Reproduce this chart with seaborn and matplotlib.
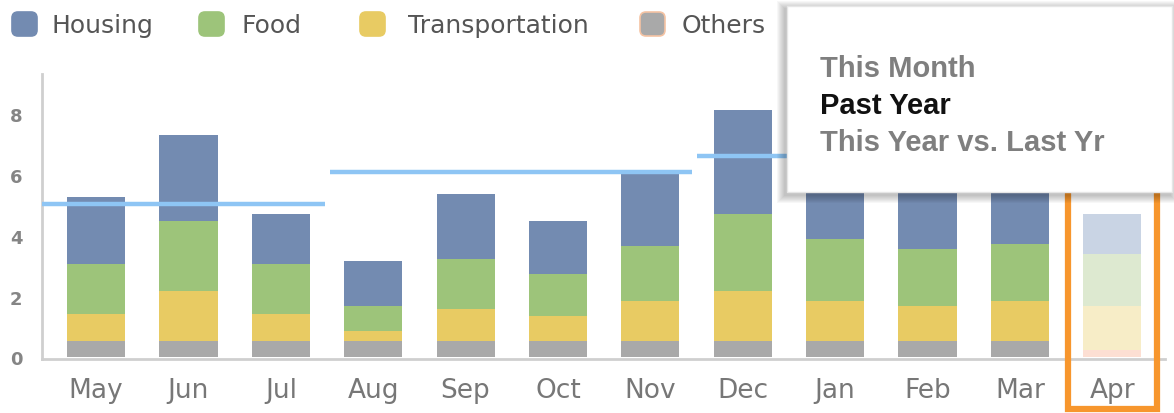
import matplotlib
matplotlib.use("Agg")
import matplotlib.pyplot as plt
import matplotlib.transforms as mtransforms
from matplotlib.patches import FancyBboxPatch, Rectangle
import pandas as pd
import seaborn as sns

# --- data ---
months = ["May", "Jun", "Jul", "Aug", "Sep", "Oct", "Nov", "Dec", "Jan", "Feb", "Mar", "Apr"]
categories = ["Housing", "Food", "Transportation", "Others"]
housing = [2.21, 2.84, 1.63, 1.47, 2.13, 1.73, 2.38, 3.42, 2.31, 2.44, 2.57, 1.31]
food = [1.63, 2.30, 1.63, 0.82, 1.64, 1.39, 1.80, 2.54, 2.04, 1.88, 1.88, 1.72]
transport = [0.89, 1.62, 0.89, 0.31, 1.05, 0.80, 1.30, 1.62, 1.30, 1.13, 1.30, 1.45]
others = [0.55, 0.55, 0.55, 0.55, 0.55, 0.55, 0.55, 0.55, 0.55, 0.55, 0.55, 0.23]
target_values = [5.03, 6.10, 6.60]
target_spans = [(-0.6, 2.48), (2.53, 6.45), (6.5, 10.5)]
popup_items = ["This Month", "Past Year", "This Year vs. Last Yr"]

colors = ["#738bb1", "#9dc47a", "#e8cb63", "#a9a9a9"]
faded = ["#c9d4e4", "#dde9d0", "#f7edc7", "#fddfd3"]

sns.set_theme(style="white")
plt.rcParams["font.family"] = ["DejaVu Sans"]

df = pd.DataFrame({"month": months, "Housing": housing, "Food": food,
                   "Transportation": transport, "Others": others})

W, H = 1174, 414
fig = plt.figure(figsize=(W / 100, H / 100), dpi=100)
ax = fig.add_axes([42 / W, 54 / H, (1165 - 42) / W, (360 - 75) / H])

# stacked bars: draw cumulative totals from top layer down
for i, cat in enumerate(categories):
    cum = df[categories[i:]].sum(axis=1)
    pal = [colors[i]] * (len(months) - 1) + [faded[i]]
    sns.barplot(x=df["month"], y=cum, hue=df["month"], palette=pal,
                legend=False, width=0.63, ax=ax, saturation=1, linewidth=0)

# target lines
for val, (x0, x1) in zip(target_values, target_spans):
    ax.plot([x0, x1], [val, val], color="#8ec5f4", lw=3.2, solid_capstyle="butt", zorder=5)

ax.set_xlim(-0.585, 11.57)
ax.set_ylim(-0.05, 9.3)
ax.set_yticks([0, 2, 4, 6, 8])
ax.set_xlabel("")
ax.set_ylabel("")
for s in ["top", "right"]:
    ax.spines[s].set_visible(False)
for s in ["left", "bottom"]:
    ax.spines[s].set_color("#cfcfcf")
    ax.spines[s].set_linewidth(2)
ax.tick_params(axis="x", length=0, pad=13, labelsize=19, labelcolor="#777777")
ax.tick_params(axis="y", length=0, pad=14, labelsize=13, labelcolor="#858585")
for t in ax.get_yticklabels():
    t.set_fontweight("bold")

# legend drawn by hand (rounded swatches), pixel coordinates
pix = mtransforms.IdentityTransform()
leg_swatch_x = [12, 199, 360, 640]
leg_text_x = [51, 241, 408, 682]
for i, cat in enumerate(categories):
    edge = "#f5c3a3" if cat == "Others" else colors[i]
    sw = FancyBboxPatch((leg_swatch_x[i], H - 37), 25, 24,
                        boxstyle="round,pad=0,rounding_size=6",
                        transform=pix, facecolor=colors[i],
                        edgecolor=edge, lw=1.2)
    fig.patches.append(sw)
    fig.text(leg_text_x[i] / W, (H - 26) / H, cat, fontsize=18,
             color="#555555", va="center", ha="left")

# highlight box around the last month
trans = mtransforms.blended_transform_factory(ax.transData, fig.transFigure)
box = Rectangle((10.52, 4 / H), 0.96, 0.62, transform=trans, fill=False,
                edgecolor="#f7962d", lw=4.5, zorder=4, clip_on=False)
fig.patches.append(box)

# popup with soft shadow
px0, py0, px1, py1 = 787, 7, 1172, 193
for k in range(8, 0, -1):
    sh = Rectangle((px0 - k - 2, H - py1 - k - 3), px1 - px0 + 2 * k, py1 - py0 + 2 * k,
                   transform=pix, facecolor="black", alpha=0.03, lw=0, zorder=6)
    fig.patches.append(sh)
popup = Rectangle((px0, H - py1), px1 - px0, py1 - py0, transform=pix,
                  facecolor="white", edgecolor="#e6e6e6", lw=1, zorder=7)
fig.patches.append(popup)
popup_colors = ["#7f7f7f", "#111111", "#7f7f7f"]
baselines = [77, 114, 151]
for txt, c, b in zip(popup_items, popup_colors, baselines):
    fig.text(820 / W, (H - b) / H, txt, fontsize=21, fontweight="bold",
             color=c, family=["Liberation Sans", "DejaVu Sans"], va="baseline",
             ha="left", zorder=8)

fig.savefig("out.png", dpi=100)
